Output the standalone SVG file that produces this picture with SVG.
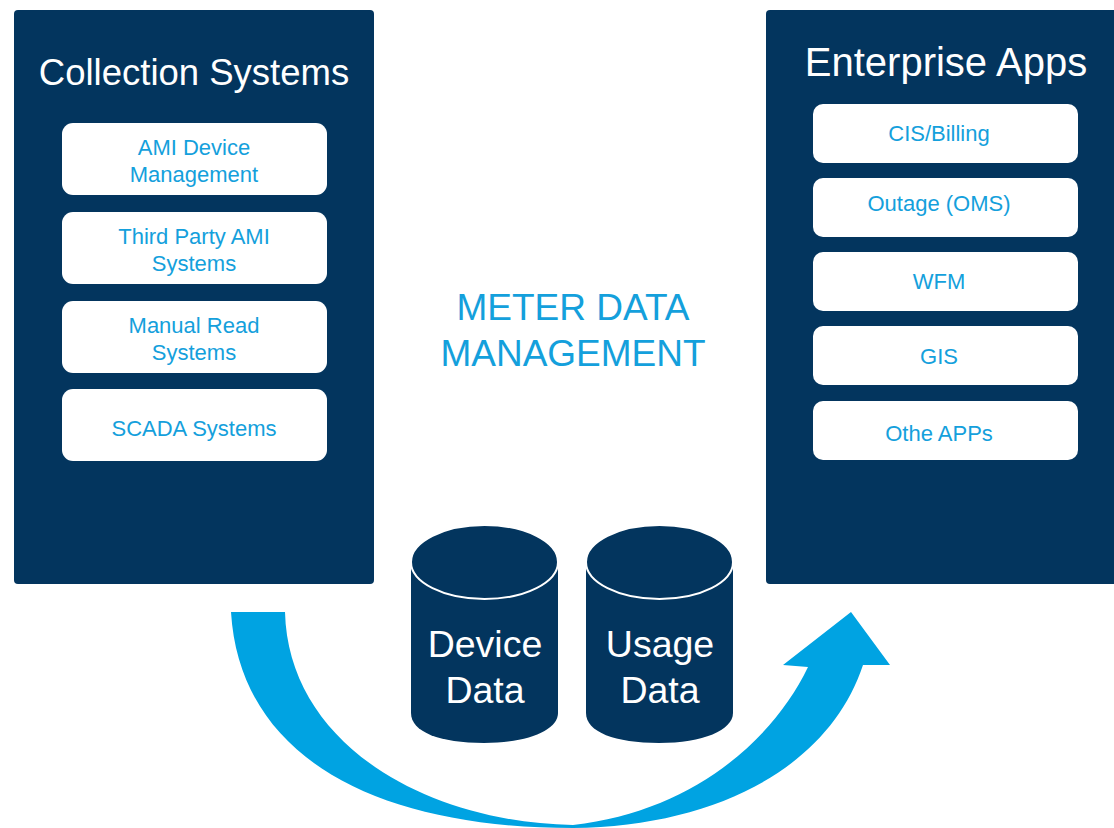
<svg xmlns="http://www.w3.org/2000/svg" width="1114" height="828" viewBox="0 0 1114 828">
<style>
.panel{fill:#03355e}
.box{fill:#ffffff}
.title{font-family:"Liberation Sans",Arial,sans-serif;fill:#ffffff;text-anchor:middle}
.bt{font-family:"Liberation Sans",Arial,sans-serif;font-size:22px;fill:#14a0dc;text-anchor:middle}
.mdm{font-family:"Liberation Sans",Arial,sans-serif;font-size:37px;fill:#14a0dc;text-anchor:middle}
.cyl{fill:#03355e}
.cyltop{fill:#03355e;stroke:#ffffff;stroke-width:2}
.ct{font-family:"Liberation Sans",Arial,sans-serif;font-size:37.5px;fill:#ffffff;text-anchor:middle}
</style>
<rect width="1114" height="828" fill="#ffffff"/>
<g id="connectors">
<path d="M231,612 L285,612 C288,740 420,822 573,825 C690,812 772,742 808,667 L783,665 L851,612 L890,665 L863,665 C830,765 720,826 573,828 C380,828 240,760 231,612 Z" fill="#00a3e2"/>
</g>
<g id="collection-systems">
<rect class="panel" x="14" y="10" width="360" height="574" rx="4"/>
<text class="title" x="194" y="85" font-size="36.5">Collection Systems</text>
</g>
<g id="ami-device-management">
<rect class="box" x="62" y="123" width="265" height="72" rx="11"/>
<text class="bt" x="194" y="155">AMI Device</text>
<text class="bt" x="194" y="182">Management</text>
</g>
<g id="third-party-ami">
<rect class="box" x="62" y="212" width="265" height="72" rx="11"/>
<text class="bt" x="194" y="244">Third Party AMI</text>
<text class="bt" x="194" y="271">Systems</text>
</g>
<g id="manual-read">
<rect class="box" x="62" y="301" width="265" height="72" rx="11"/>
<text class="bt" x="194" y="333">Manual Read</text>
<text class="bt" x="194" y="360">Systems</text>
</g>
<g id="scada">
<rect class="box" x="62" y="389" width="265" height="72" rx="11"/>
<text class="bt" x="194" y="436">SCADA Systems</text>
</g>
<g id="enterprise-apps">
<rect class="panel" x="766" y="10" width="352" height="574" rx="4"/>
<text class="title" x="946" y="76" font-size="40">Enterprise Apps</text>
</g>
<g id="cis-billing">
<rect class="box" x="813" y="104" width="265" height="59" rx="10"/>
<text class="bt" x="939" y="141">CIS/Billing</text>
</g>
<g id="outage">
<rect class="box" x="813" y="178" width="265" height="59" rx="10"/>
<text class="bt" x="939" y="211">Outage (OMS)</text>
</g>
<g id="wfm">
<rect class="box" x="813" y="252" width="265" height="59" rx="10"/>
<text class="bt" x="939" y="289">WFM</text>
</g>
<g id="gis">
<rect class="box" x="813" y="326" width="265" height="59" rx="10"/>
<text class="bt" x="939" y="364">GIS</text>
</g>
<g id="other-apps">
<rect class="box" x="813" y="401" width="265" height="59" rx="10"/>
<text class="bt" x="939" y="441">Othe APPs</text>
</g>
<g id="mdm">
<text class="mdm" x="573" y="320">METER DATA</text>
<text class="mdm" x="573" y="366">MANAGEMENT</text>
</g>
<g id="device-data">
<path class="cyl" d="M411,562 L411,713 C411,732 440,743 484,743 C528,743 558,730 558,713 L558,562 Z"/>
<ellipse class="cyltop" cx="484.5" cy="562" rx="73.5" ry="37"/>
<text class="ct" x="485" y="657">Device</text>
<text class="ct" x="485" y="703">Data</text>
</g>
<g id="usage-data">
<path class="cyl" d="M586,562 L586,713 C586,732 615,743 659,743 C703,743 733,730 733,713 L733,562 Z"/>
<ellipse class="cyltop" cx="659.5" cy="562" rx="73.5" ry="37"/>
<text class="ct" x="660" y="657">Usage</text>
<text class="ct" x="660" y="703">Data</text>
</g>
</svg>
